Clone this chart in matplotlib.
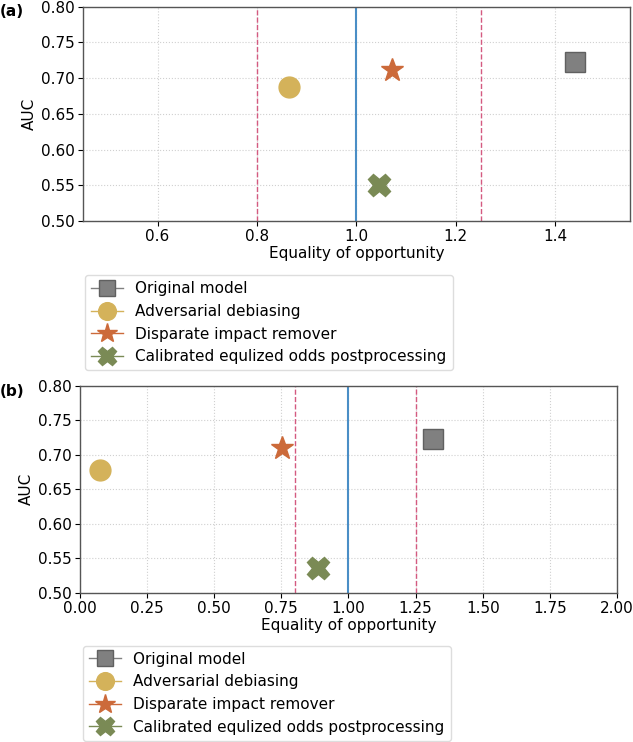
import numpy as np
import matplotlib.pyplot as plt

# Method names shared by both panels
methods = ["Original model", "Adversarial debiasing", "Disparate impact remover",
           "Calibrated equlized odds postprocessing"]
markers = ["s", "o", "*", "X"]
colors = ["#808080", "#d4b25a", "#cc6a3a", "#7a8a55"]
edges = ["#606060", "#d4b25a", "#cc6a3a", "#7a8a55"]
sizes = [14, 15, 17, 16]

# Panel (a) values: equality of opportunity vs AUC
eo_a = [1.44, 0.864, 1.072, 1.046]
auc_a = [0.723, 0.687, 0.711, 0.550]

# Panel (b) values
eo_b = [1.315, 0.076, 0.753, 0.886]
auc_b = [0.723, 0.678, 0.710, 0.536]

fair_low, fair_high, fair_mid = 0.8, 1.25, 1.0
FS = 11


def draw_panel(ax, eo, auc, xlim, xticks):
    ax.grid(True, linestyle=":", color="#d0d0d0", linewidth=0.8)
    ax.set_axisbelow(True)
    ax.axvline(fair_low, color="#d45a80", linestyle="--", linewidth=1.0, zorder=1)
    ax.axvline(fair_high, color="#d45a80", linestyle="--", linewidth=1.0, zorder=1)
    ax.axvline(fair_mid, color="#4a8ec6", linestyle="-", linewidth=1.5, zorder=1)
    for x, y, name, m, c, e, s in zip(eo, auc, methods, markers, colors, edges, sizes):
        ax.plot([x], [y], marker=m, linestyle="-", color=c, markerfacecolor=c,
                markeredgecolor=e, markersize=s, linewidth=1.0, label=name, zorder=3)
    ax.set_xlim(*xlim)
    ax.set_ylim(0.5, 0.8)
    ax.set_xticks(xticks)
    ax.set_yticks(np.arange(0.5, 0.801, 0.05))
    ax.set_yticklabels([f"{v:.2f}" for v in np.arange(0.5, 0.801, 0.05)])
    ax.set_xlabel("Equality of opportunity", fontsize=FS, labelpad=1)
    ax.set_ylabel("AUC", fontsize=FS, labelpad=3)
    ax.tick_params(labelsize=FS, pad=2.5)
    for sp in ax.spines.values():
        sp.set_color("#555555")
        sp.set_linewidth(1.0)


def add_legend(ax, x, y):
    ax.legend(loc="upper left", bbox_to_anchor=(x, y), bbox_transform=fig.transFigure,
              fontsize=FS, handlelength=2.1, labelspacing=0.5, borderpad=0.4,
              borderaxespad=0.0, handletextpad=0.8, markerscale=0.85,
              framealpha=1.0, edgecolor="#dddddd")


fig = plt.figure(figsize=(6.33, 7.42), dpi=100)

ax1 = fig.add_axes([0.131, 0.702, 0.864, 0.289])
draw_panel(ax1, eo_a, auc_a, (0.45, 1.55), [0.6, 0.8, 1.0, 1.2, 1.4])
add_legend(ax1, 0.134, 0.629)
fig.text(0.0, 0.985, "(a)", fontsize=11, fontweight="bold", ha="left", va="center")

ax2 = fig.add_axes([0.126, 0.201, 0.849, 0.279])
draw_panel(ax2, eo_b, auc_b, (0.0, 2.0), np.arange(0, 2.01, 0.25))
ax2.set_xticklabels([f"{v:.2f}" for v in np.arange(0, 2.01, 0.25)])
add_legend(ax2, 0.131, 0.130)
fig.text(0.0, 0.472, "(b)", fontsize=11, fontweight="bold", ha="left", va="center")

fig.savefig("out.png", dpi=100)
